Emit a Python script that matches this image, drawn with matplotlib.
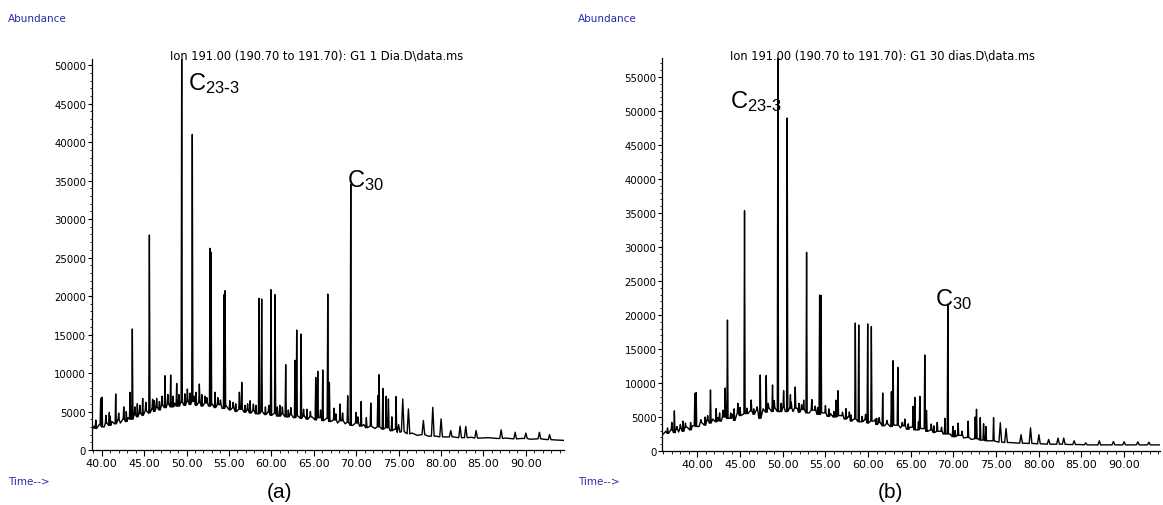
import numpy as np
import matplotlib
matplotlib.use("Agg")
import matplotlib.pyplot as plt
from matplotlib.ticker import MultipleLocator, FormatStrFormatter

plt.rcParams["mathtext.default"] = "regular"

# ---------------------------------------------------------------- data (a): G1 1 dia
a_base_t = [38.8, 39.1, 39.4, 39.7, 40.3, 40.6, 40.9, 41.2, 41.5, 41.9, 42.2, 42.5, 42.8, 43.1,
            43.5, 43.9, 44.2, 44.5, 44.9, 45.2, 45.5, 45.9, 46.2, 46.6, 46.9, 47.2, 47.6, 47.9,
            48.3, 48.6, 49.0, 49.3, 49.7, 50.0, 50.4, 50.8, 51.1, 51.5, 51.9, 52.3, 52.6, 53.0,
            53.4, 53.8, 54.2, 54.7, 55.1, 55.5, 55.9, 56.3, 56.8, 57.2, 57.6, 58.0, 58.4, 58.8,
            59.2, 59.6, 60.0, 60.5, 60.9, 61.3, 61.8, 62.2, 62.6, 63.0, 63.5, 63.9, 64.3, 64.8,
            65.2, 65.6, 66.1, 66.5, 67.0, 67.4, 67.8, 68.3, 68.7, 69.1, 69.6, 70.0, 70.4, 70.9,
            71.3, 71.8, 72.2, 72.6, 73.1, 73.6, 74.0, 74.5, 75.0, 75.5, 76.0, 76.6, 77.2, 77.8,
            78.5, 79.4, 80.3, 81.5, 82.6, 83.6, 84.6, 85.6, 86.6, 87.6, 88.5, 89.5, 90.5, 91.5,
            92.5, 93.5, 94.5, 95.2]
a_base_y = [2500, 3100, 2800, 3300, 3000, 3500, 3200, 3700, 3400, 3900, 3500, 4000, 3700, 4200,
            4000, 4600, 4300, 4800, 4500, 5100, 4800, 5300, 5000, 5500, 5200, 5800, 5500, 6000,
            5600, 6100, 5700, 6200, 5800, 6300, 5900, 6300, 5800, 6200, 5700, 6100, 5700, 6000,
            5500, 5900, 5400, 5700, 5200, 5500, 5000, 5300, 4900, 5200, 4800, 5100, 4700, 5000,
            4600, 4900, 4500, 4800, 4400, 4700, 4300, 4600, 4200, 4500, 4100, 4400, 4000, 4300,
            3900, 4200, 3800, 4100, 3700, 3900, 3500, 3800, 3400, 3600, 3200, 3500, 3100, 3300,
            2900, 3100, 2800, 3000, 2700, 2900, 2500, 2700, 2300, 2400, 2100, 2200, 1900, 2000,
            1800, 1800, 1700, 1700, 1600, 1650, 1550, 1600, 1500, 1550, 1450, 1500, 1400, 1450,
            1350, 1300, 1250, 1200]
a_peak_t = [39.88, 40.03, 40.9, 41.65, 42.6, 43.34, 43.61, 44.2, 44.83, 45.62, 46.0, 46.48,
            47.46, 47.8, 48.13, 48.84, 49.43, 49.8, 50.10, 50.68, 51.12, 51.51, 52.2, 52.77,
            52.89, 53.36, 54.42, 54.54, 55.5, 56.23, 56.51, 57.49, 57.88, 58.55, 58.86, 59.96,
            60.44, 61.0, 61.69, 62.3, 62.79, 62.99, 63.50, 64.2, 65.23, 65.47, 66.06, 66.65,
            66.84, 67.39, 68.10, 69.00, 69.36, 69.99, 70.58, 71.72, 72.55, 72.70, 73.14, 73.53,
            73.80, 74.70, 75.49, 76.16, 77.92, 79.03, 80.01, 81.15, 82.25, 82.92, 84.14, 87.09,
            88.74, 90.0, 91.6, 92.8]
a_peak_y = [6700, 6850, 4900, 7270, 5600, 7490, 15720, 6000, 6700, 27930, 6600, 6700,
            9650, 7200, 9740, 8650, 51000, 7300, 7920, 41000, 7500, 8570, 7000, 26200,
            25700, 7500, 20180, 20700, 6200, 7500, 8790, 6400, 5970, 19700, 19620, 20830,
            20180, 5800, 11080, 5500, 11650, 15590, 15070, 5300, 9440, 10220, 10400, 20260,
            8790, 5430, 5970, 7050, 34500, 4890, 6300, 6100, 7050, 9780, 8010, 6970,
            6630, 6930, 6630, 5330, 3830, 5540, 4040, 2530, 3100, 3060, 2530, 2620,
            2310, 2200, 2300, 2000]
# small noise spikes riding on the hump
a_spike_t = [39.3, 40.5, 41.0, 42.0, 42.9, 43.9, 44.5, 45.2, 46.2, 46.8, 47.1, 48.4, 49.1,
             50.4, 50.9, 51.8, 52.4, 53.7, 54.0, 55.1, 55.8, 56.9, 57.2, 58.2, 59.3, 59.7,
             60.7, 61.3, 62.0, 63.8, 64.6, 65.8, 67.6, 68.4, 70.2, 71.2, 74.2, 75.0]
a_spike_y = [3900, 4500, 4400, 4800, 5000, 5600, 5800, 6200, 6400, 6300, 7000, 7000, 7200,
             7400, 7000, 7200, 6800, 6800, 6500, 6400, 6000, 5800, 6000, 5800, 5600, 5800,
             5600, 5600, 5200, 5300, 5000, 5200, 4700, 4800, 4300, 4200, 4300, 3300]

# ---------------------------------------------------------------- data (b): G1 30 dias
b_base_t = [36.0, 36.3, 36.6, 36.9, 37.2, 37.5, 37.8, 38.1, 38.4, 38.8, 39.1, 39.4, 40.2, 40.5,
            40.8, 41.1, 41.4, 41.8, 42.1, 42.4, 42.8, 43.1, 43.8, 44.1, 44.4, 44.8, 45.1, 45.9,
            46.2, 46.6, 46.9, 47.2, 47.7, 48.0, 48.4, 48.7, 49.1, 49.7, 50.0, 50.3, 50.8, 51.2,
            51.7, 52.0, 52.4, 53.1, 53.6, 54.0, 54.8, 55.2, 55.6, 55.9, 56.8, 57.2, 57.6, 58.1,
            58.3, 59.2, 59.6, 60.0, 60.6, 61.1, 61.4, 61.9, 62.3, 62.6, 63.2, 63.8, 64.1, 64.5,
            64.9, 65.8, 66.3, 67.0, 67.3, 67.7, 68.4, 68.8, 69.6, 70.2, 70.8, 71.2, 71.5, 72.1,
            72.9, 73.3, 74.0, 74.4, 75.0, 75.8, 76.5, 77.2, 78.3, 79.5, 80.5, 81.6, 82.6, 83.5,
            84.8, 86.0, 87.5, 88.2, 89.4, 90.8, 92.2, 93.5, 94.3]
b_base_y = [2500, 2900, 2600, 3100, 2700, 3200, 2800, 3300, 2900, 3500, 3100, 3700, 3600, 4200,
            3800, 4500, 4100, 4700, 4300, 4900, 4400, 5000, 4800, 5400, 4500, 5600, 5200, 5500,
            5900, 5400, 6000, 4800, 6200, 5700, 6300, 5800, 6300, 5800, 6400, 5800, 6300, 5800,
            6300, 5700, 6100, 5600, 6000, 5400, 5600, 5100, 5500, 5000, 5200, 4700, 5000, 4400,
            4700, 4300, 4600, 4100, 4400, 3900, 4200, 3700, 4000, 3600, 3800, 3400, 3700, 3200,
            3500, 3100, 3300, 2900, 3100, 2700, 2900, 2500, 2500, 2100, 2300, 1900, 2000, 1700,
            1800, 1600, 1500, 1500, 1400, 1300, 1250, 1200, 1150, 1100, 1050, 1000, 1000, 950,
            950, 900, 900, 900, 900, 900, 900, 900, 900]
b_peak_t = [37.0, 37.3, 38.3, 39.7, 39.85, 41.53, 42.2, 43.25, 43.52, 44.74, 45.52, 46.3,
            47.36, 48.06, 48.8, 49.43, 50.1, 50.52, 50.9, 51.46, 52.45, 52.79, 53.4, 54.32,
            54.48, 55.0, 56.24, 56.47, 57.4, 57.8, 58.5, 58.9, 59.95, 60.38, 60.85, 61.71,
            62.73, 62.93, 63.48, 64.3, 65.27, 65.47, 66.06, 66.64, 66.84, 67.4, 68.1, 69.0,
            69.34, 69.93, 70.55, 71.72, 72.55, 72.70, 73.14, 73.53, 73.80, 74.70, 75.49, 76.16,
            77.92, 79.03, 80.01, 81.15, 82.25, 82.92, 84.14, 85.5, 87.09, 88.74, 90.0, 91.6,
            92.9]
b_peak_y = [4200, 5900, 4400, 8480, 8600, 8970, 6230, 9260, 19260, 7010, 35340, 7500,
            11180, 11100, 9710, 58500, 8870, 48970, 8280, 9410, 7480, 29220, 7560, 22940,
            22890, 6700, 7480, 8870, 6230, 5740, 18820, 18530, 18680, 18290, 4700, 8530,
            8720, 13280, 12300, 4700, 6570, 7890, 8040, 14120, 5980, 3970, 4210, 4800,
            21620, 3630, 4100, 4400, 5000, 6140, 4900, 4000, 3600, 4900, 4160, 3300,
            2400, 3400, 2400, 1700, 1900, 1900, 1500, 1200, 1500, 1400, 1350, 1350,
            1300]
b_spike_t = [36.5, 37.6, 38.0, 38.6, 39.2, 40.4, 40.9, 41.2, 42.6, 43.0, 43.9, 44.3, 45.0,
             45.8, 46.6, 47.0, 48.3, 49.0, 49.8, 51.0, 51.9, 52.2, 53.8, 54.1, 55.4, 56.0,
             57.0, 58.0, 59.3, 59.7, 61.0, 61.3, 62.2, 64.0, 64.7, 65.9, 67.7, 68.6, 70.2, 71.0]
b_spike_y = [3400, 3600, 3900, 4100, 4200, 4600, 5000, 5200, 5600, 6000, 5600, 6200, 6400,
             6300, 6200, 6500, 7000, 7400, 7000, 7200, 7000, 6800, 6600, 6400, 6200, 5800,
             5700, 5300, 5100, 5400, 4800, 4900, 4500, 4200, 4000, 4300, 3700, 3500, 3000, 2900]

titles = [r"Ion 191.00 (190.70 to 191.70): G1 1 Dia.D\data.ms",
          r"Ion 191.00 (190.70 to 191.70): G1 30 dias.D\data.ms"]
panel_tags = ["(a)", "(b)"]

BLUE = "#2a2aa8"
SANS = "DejaVu Sans"
ARIAL = "Liberation Sans"


def build_trace(base_t, base_y, peak_t, peak_y):
    # spikes sit on the closest baseline sample; baseline samples under a spike are dropped
    base_t = np.asarray(base_t, float)
    base_y = np.asarray(base_y, float)
    keep = np.ones(len(base_t), bool)
    pts = []
    for t, h in zip(peak_t, peak_y):
        w = 0.07 if t < 75 else 0.16
        foot = base_y[np.abs(base_t - t).argmin()]
        keep &= np.abs(base_t - t) > w
        pts += [(t - w, foot), (t, h), (t + w, foot)]
    pts += list(zip(base_t[keep], base_y[keep]))
    pts.sort()
    arr = np.array(pts)
    return arr[:, 0], arr[:, 1]


def c_label(ax, t, y, sub):
    ax.text(t, y, "C$_{%s}$" % sub, fontsize=17, family=ARIAL, va="baseline", ha="left")


fig = plt.figure(figsize=(11.63, 5.06), dpi=100)

# axes rectangles in figure fractions
rects = [[91.7 / 1163, 1 - 451 / 506, (564 - 91.7) / 1163, (451 - 60) / 506],
         [662 / 1163, 1 - 452 / 506, (1160 - 662) / 1163, (452 - 59) / 506]]
xlims = [(38.82, 94.5), (35.85, 94.2)]
ylims = [50800, 57800]
traces = [build_trace(a_base_t, a_base_y, a_peak_t + a_spike_t, a_peak_y + a_spike_y),
          build_trace(b_base_t, b_base_y, b_peak_t + b_spike_t, b_peak_y + b_spike_y)]

axes = []
for i in range(2):
    ax = fig.add_axes(rects[i])
    t, y = traces[i]
    ax.plot(t, y, color="black", lw=1.0)
    ax.set_xlim(*xlims[i])
    ax.set_ylim(0, ylims[i])
    for s in ("top", "right"):
        ax.spines[s].set_visible(False)
    for s in ("left", "bottom"):
        ax.spines[s].set_linewidth(0.9)
    ax.xaxis.set_major_locator(MultipleLocator(5))
    ax.xaxis.set_minor_locator(MultipleLocator(1))
    ax.xaxis.set_major_formatter(FormatStrFormatter("%.2f"))
    ax.yaxis.set_major_locator(MultipleLocator(5000))
    ax.yaxis.set_minor_locator(MultipleLocator(1000))
    ax.tick_params(axis="x", which="major", length=4, width=0.8, labelsize=8, pad=2)
    ax.tick_params(axis="x", which="minor", length=2.5, width=0.6)
    ax.tick_params(axis="y", which="major", length=3, width=0.8, labelsize=7.3, pad=1)
    ax.tick_params(axis="y", which="minor", length=1.5, width=0.6)
    for lab in ax.get_xticklabels() + ax.get_yticklabels():
        lab.set_family(SANS)
    axes.append(ax)

c_label(axes[0], 50.18, 46900, r"23\text{-}3")
c_label(axes[0], 68.89, 34290, "30")
c_label(axes[1], 43.84, 50590, r"23\text{-}3")
c_label(axes[1], 67.82, 21470, "30")

# header/footer texts, positioned in pixels
for i, x0 in enumerate([8, 578]):
    fig.text(x0 / 1163, 1 - 19 / 506, "Abundance", color=BLUE, fontsize=7.5,
             family=SANS, va="center", ha="left")
    fig.text(x0 / 1163, 1 - 482 / 506, "Time-->", color=BLUE, fontsize=7.5,
             family=SANS, va="center", ha="left")
fig.text(170 / 1163, 1 - 56 / 506, titles[0], fontsize=8.3, family=SANS, va="center")
fig.text(730 / 1163, 1 - 56 / 506, titles[1], fontsize=8.3, family=SANS, va="center")
fig.text(280 / 1163, 1 - 493 / 506, panel_tags[0], fontsize=15, family=ARIAL,
         ha="center", va="center")
fig.text(890 / 1163, 1 - 493 / 506, panel_tags[1], fontsize=15, family=ARIAL,
         ha="center", va="center")

fig.savefig("out.png", dpi=100)
